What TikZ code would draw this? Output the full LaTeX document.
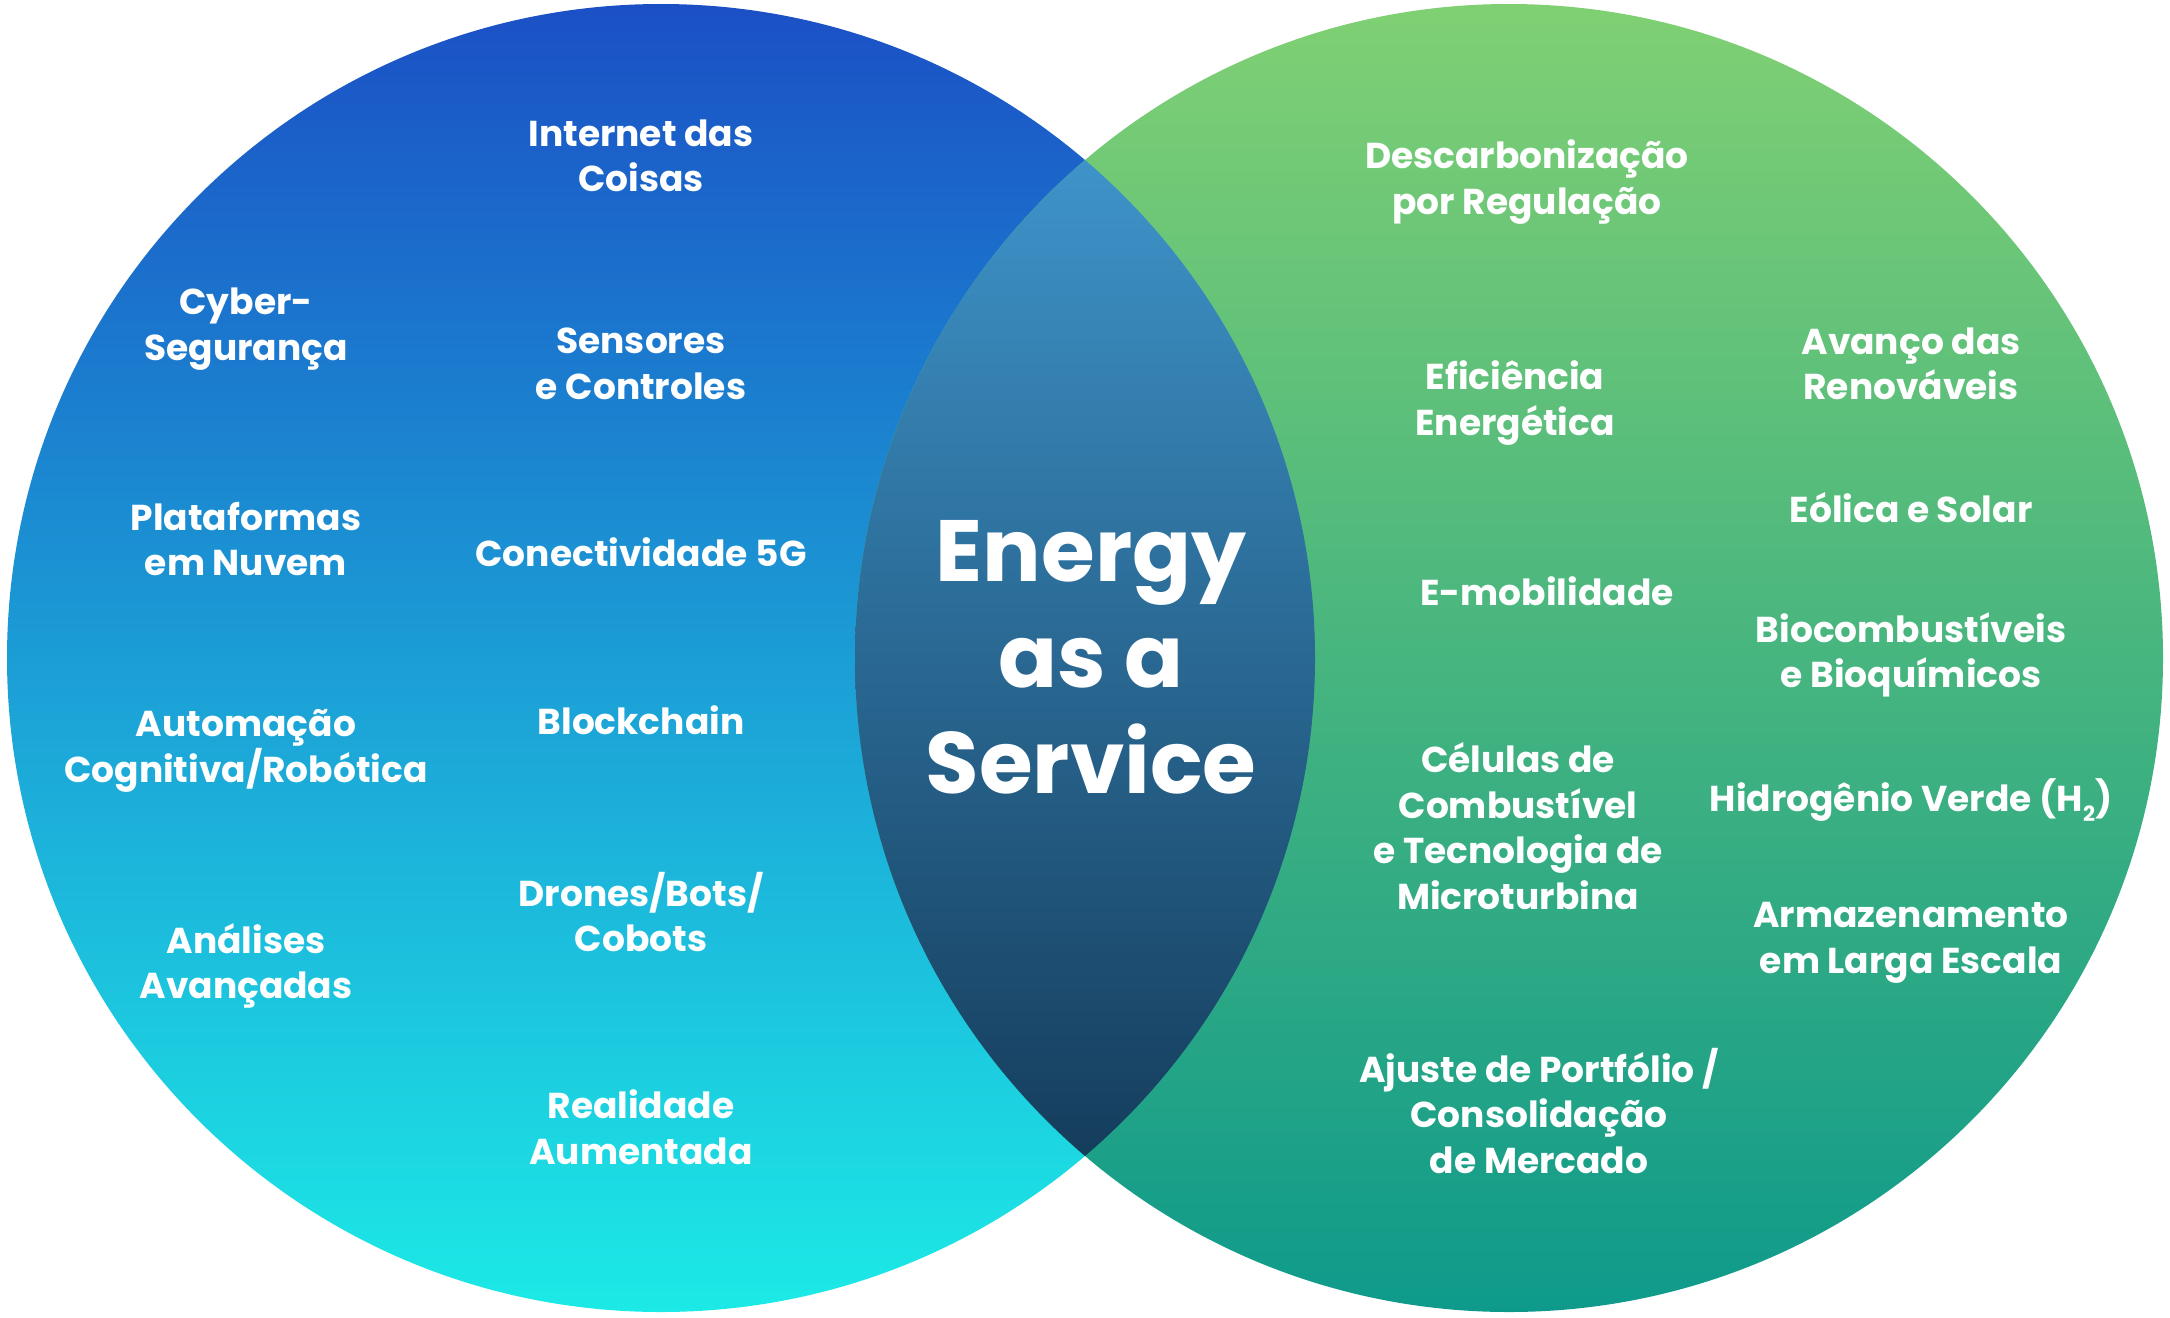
\documentclass[tikz,border=0pt]{standalone}
\usepackage{fontspec}
\setmainfont{Poppins}
\definecolor{ltop}{HTML}{1B50C5}
\definecolor{lbot}{HTML}{1CEAE6}
\definecolor{rtop}{HTML}{80D073}
\definecolor{rbot}{HTML}{0E9A8B}
\definecolor{mtop}{HTML}{3E93C9}
\definecolor{mbot}{HTML}{153D5C}
\tikzset{
  lbl/.style={text=white, font=\bfseries\fontsize{36}{45.5}\selectfont, align=center, inner sep=0pt},
  biglbl/.style={text=white, font=\bfseries\fontsize{87}{106}\selectfont, align=center, inner sep=0pt}
}
\begin{document}
\begin{tikzpicture}[x=1pt,y=-1pt]
\useasboundingbox (0,0) rectangle (2170,1317);
% circles
\shade[top color=ltop, bottom color=lbot] (661,658) circle (654);
\shade[top color=rtop, bottom color=rbot] (1509,658) circle (654);
\begin{scope}
  \clip (661,658) circle (654);
  \clip (1509,658) circle (654);
  \shade[top color=mtop, bottom color=mbot] (850,160) rectangle (1320,1156);
\end{scope}
% left outer
\node[lbl] (cyb) at (246,329) {Cyber-\\Segurança};
\node[lbl] (pla) at (246,539) {Plataformas\\em Nuvem};
\node[lbl] (aut) at (246,751) {Automação\\Cognitiva/Robótica};
\node[lbl] (ana) at (246,966) {Análises\\Avançadas};
% left inner
\node[lbl] (iot) at (641,156) {Internet das\\Coisas};
\node[lbl] (sen) at (641,364) {Sensores\\e Controles};
\node[lbl] (con) at (641,552) {Conectividade 5G};
\node[lbl] (blo) at (641,720) {Blockchain};
\node[lbl] (dro) at (641,912) {Drones/Bots/\\Cobots};
\node[lbl] (rea) at (641,1127) {Realidade\\Aumentada};
% center
\node[biglbl] (eaas) at (1091,657) {Energy\\as a\\Service};
% right inner
\node[lbl] (des) at (1527,182) {Descarbonização\\por Regulação};
\node[lbl] (efi) at (1515,403) {Eficiência\\Energética};
\node[lbl] (emo) at (1547,591) {E-mobilidade};
\node[lbl] (cel) at (1518,826) {Células de\\Combustível\\e Tecnologia de\\Microturbina};
\node[lbl] (aju) at (1539,1111) {Ajuste de Portfólio /\\Consolidação\\de Mercado};
% right outer
\node[lbl] (ava) at (1911,364) {Avanço das\\Renováveis};
\node[lbl] (eol) at (1911,508) {Eólica e Solar};
\node[lbl] (bio) at (1911,655) {Biocombustíveis\\e Bioquímicos};
\node[lbl] (hid) at (1911,800) {Hidrogênio Verde (H\raisebox{-0.28em}{\fontsize{21}{21}\selectfont 2})};
\node[lbl] (arm) at (1911,943) {Armazenamento\\em Larga Escala};
\end{tikzpicture}
\end{document}
